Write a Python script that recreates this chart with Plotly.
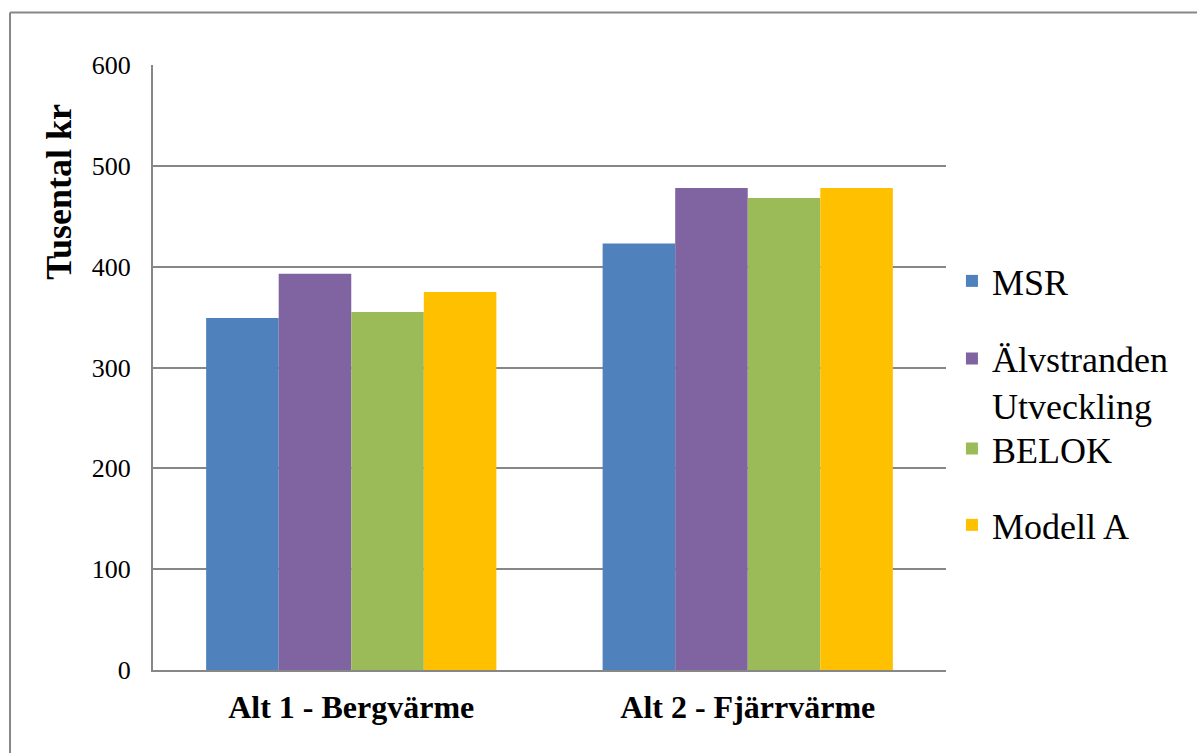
import plotly.graph_objects as go

# Categories and series (thousands of SEK)
categories = ["Alt 1 - Bergvärme", "Alt 2 - Fjärrvärme"]
series_names = ["MSR", "Älvstranden<br>Utveckling", "BELOK", "Modell A"]
msr = [349, 423]
alvstranden = [393, 478]
belok = [355, 468]
modell_a = [375, 478]
y_ticks = [0, 100, 200, 300, 400, 500, 600]

colors = ["#4F81BD", "#8064A2", "#9BBB59", "#FFC000"]
values = [msr, alvstranden, belok, modell_a]
legend_ids = ["legend", "legend2", "legend3", "legend4"]
legend_y = [0.643, 0.476, 0.366, 0.2397]

SERIF = "Liberation Serif, Times New Roman, serif"
GRID = "#878787"

fig = go.Figure()
for name, vals, col, lg in zip(series_names, values, colors, legend_ids):
    fig.add_trace(go.Bar(
        x=categories, y=vals, name=name,
        marker=dict(color=col, line=dict(width=0)),
        legend=lg,
    ))

legend_common = dict(
    x=1.0075, xanchor="left", yanchor="middle",
    font=dict(family=SERIF, size=36, color="#000000"),
    bgcolor="rgba(0,0,0,0)", borderwidth=0, valign="top",
)
layout_legends = {}
for lg, ly in zip(legend_ids, legend_y):
    layout_legends[lg] = dict(legend_common, y=ly)

fig.update_layout(
    width=1197, height=753,
    margin=dict(l=153, r=251, t=65, b=83),
    paper_bgcolor="white", plot_bgcolor="white",
    barmode="group", bargap=0.268, bargroupgap=0,
    showlegend=True,
    font=dict(family=SERIF, color="#000000"),
    xaxis=dict(
        showgrid=False, showline=True, linecolor=GRID, linewidth=2,
        ticks="", tickfont=dict(family=SERIF, size=32, color="#000000"),
        tickprefix="<b>", ticksuffix="</b>", ticklabelstandoff=8,
    ),
    yaxis=dict(
        range=[0, 600], tickvals=y_ticks, showgrid=True, gridcolor=GRID,
        gridwidth=1.5, showline=True, linecolor=GRID, linewidth=2,
        zeroline=False, ticks="", ticklabelstandoff=15,
        tickfont=dict(family=SERIF, size=26, color="#000000"),
    ),
    **layout_legends,
)

# Y-axis title
fig.add_annotation(
    text="<b>Tusental kr</b>", textangle=-90,
    xref="paper", yref="paper", x=-0.119, y=0.790,
    xanchor="center", yanchor="middle", showarrow=False,
    font=dict(family=SERIF, size=36, color="#000000"),
)

# Outer chart frame (top and left edges)
fig.add_shape(type="line", xref="paper", yref="paper",
              x0=-0.1803, x1=1.35, y0=1.0868, y1=1.0868,
              line=dict(color=GRID, width=2))
fig.add_shape(type="line", xref="paper", yref="paper",
              x0=-0.1803, x1=-0.1803, y0=1.0868, y1=-0.2,
              line=dict(color=GRID, width=2))

fig.write_html("out.html")
